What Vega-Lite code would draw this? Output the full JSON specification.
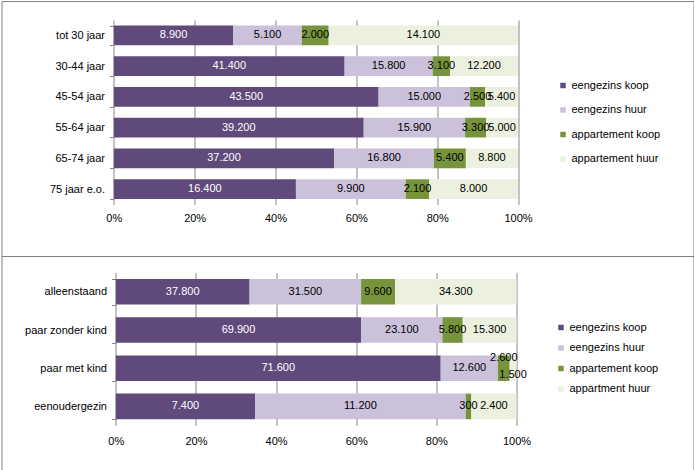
{
  "$schema": "https://vega.github.io/schema/vega-lite/v6.json",
  "padding": {"top": -6, "left": 0.5, "right": 0, "bottom": 0},
  "background": "white",
  "spacing": 0,
  "bounds": "flush",
  "datasets": {
    "top": [
      {"g": "tot 30 jaar", "s": "eengezins koop", "k": 1, "v": 8900},
      {"g": "tot 30 jaar", "s": "eengezins huur", "k": 2, "v": 5100},
      {"g": "tot 30 jaar", "s": "appartement koop", "k": 3, "v": 2000},
      {"g": "tot 30 jaar", "s": "appartement huur", "k": 4, "v": 14100},
      {"g": "30-44 jaar", "s": "eengezins koop", "k": 1, "v": 41400},
      {"g": "30-44 jaar", "s": "eengezins huur", "k": 2, "v": 15800},
      {"g": "30-44 jaar", "s": "appartement koop", "k": 3, "v": 3100},
      {"g": "30-44 jaar", "s": "appartement huur", "k": 4, "v": 12200},
      {"g": "45-54 jaar", "s": "eengezins koop", "k": 1, "v": 43500},
      {"g": "45-54 jaar", "s": "eengezins huur", "k": 2, "v": 15000},
      {"g": "45-54 jaar", "s": "appartement koop", "k": 3, "v": 2500},
      {"g": "45-54 jaar", "s": "appartement huur", "k": 4, "v": 5400},
      {"g": "55-64 jaar", "s": "eengezins koop", "k": 1, "v": 39200},
      {"g": "55-64 jaar", "s": "eengezins huur", "k": 2, "v": 15900},
      {"g": "55-64 jaar", "s": "appartement koop", "k": 3, "v": 3300},
      {"g": "55-64 jaar", "s": "appartement huur", "k": 4, "v": 5000},
      {"g": "65-74 jaar", "s": "eengezins koop", "k": 1, "v": 37200},
      {"g": "65-74 jaar", "s": "eengezins huur", "k": 2, "v": 16800},
      {"g": "65-74 jaar", "s": "appartement koop", "k": 3, "v": 5400},
      {"g": "65-74 jaar", "s": "appartement huur", "k": 4, "v": 8800},
      {"g": "75 jaar e.o.", "s": "eengezins koop", "k": 1, "v": 16400},
      {"g": "75 jaar e.o.", "s": "eengezins huur", "k": 2, "v": 9900},
      {"g": "75 jaar e.o.", "s": "appartement koop", "k": 3, "v": 2100},
      {"g": "75 jaar e.o.", "s": "appartement huur", "k": 4, "v": 8000}
    ],
    "bottom": [
      {"g": "alleenstaand", "s": "eengezins koop", "k": 1, "v": 37800},
      {"g": "alleenstaand", "s": "eengezins huur", "k": 2, "v": 31500},
      {"g": "alleenstaand", "s": "appartement koop", "k": 3, "v": 9600},
      {"g": "alleenstaand", "s": "appartment huur", "k": 4, "v": 34300},
      {"g": "paar zonder kind", "s": "eengezins koop", "k": 1, "v": 69900},
      {"g": "paar zonder kind", "s": "eengezins huur", "k": 2, "v": 23100},
      {"g": "paar zonder kind", "s": "appartement koop", "k": 3, "v": 5800},
      {"g": "paar zonder kind", "s": "appartment huur", "k": 4, "v": 15300},
      {"g": "paar met kind", "s": "eengezins koop", "k": 1, "v": 71600},
      {"g": "paar met kind", "s": "eengezins huur", "k": 2, "v": 12600},
      {"g": "paar met kind", "s": "appartement koop", "k": 3, "v": 2600},
      {"g": "paar met kind", "s": "appartment huur", "k": 4, "v": 1500},
      {"g": "eenoudergezin", "s": "eengezins koop", "k": 1, "v": 7400},
      {"g": "eenoudergezin", "s": "eengezins huur", "k": 2, "v": 11200},
      {"g": "eenoudergezin", "s": "appartement koop", "k": 3, "v": 300},
      {"g": "eenoudergezin", "s": "appartment huur", "k": 4, "v": 2400}
    ]
  },
  "vconcat": [
    {
      "width": 692,
      "height": 255,
      "data": {"name": "top"},
      "encoding": {
        "y": {
          "field": "g", "type": "nominal",
          "sort": ["tot 30 jaar", "30-44 jaar", "45-54 jaar", "55-64 jaar", "65-74 jaar", "75 jaar e.o."],
          "scale": {"range": [19, 203.5], "paddingInner": 0.36, "paddingOuter": 0.18, "round": false},
          "axis": {"title": null, "orient": "left", "offset": -112, "domain": false, "tickBand": "extent", "tickSize": 4, "tickColor": "#868686", "labelPadding": 5, "labelFontSize": 11, "labelColor": "#000000", "minExtent": 0}
        }
      },
      "layer": [
        {
          "mark": {"type": "bar", "strokeWidth": 0},
          "encoding": {
            "x": {
              "field": "v", "type": "quantitative", "stack": "normalize",
              "scale": {"domain": [-0.27783, 1.43414], "nice": false, "zero": false},
              "axis": {"title": null, "values": [0, 0.2, 0.4, 0.6, 0.8, 1], "format": ".0%", "grid": false, "domain": false, "offset": -51.5, "tickSize": -184.5, "tickColor": "#868686", "labelPadding": 192, "labelFontSize": 11, "labelColor": "#000000", "labelFlush": false, "labelOverlap": false, "zindex": 0, "minExtent": 0}
            },
            "order": {"field": "k", "type": "quantitative"},
            "color": {
              "field": "s", "type": "nominal",
              "sort": ["eengezins koop", "eengezins huur", "appartement koop", "appartement huur"],
              "scale": {"domain": ["eengezins koop", "eengezins huur", "appartement koop", "appartement huur"], "range": ["#604A7B", "#CCC1DA", "#77933C", "#EBF1DE"]},
              "legend": {"title": null, "orient": "none", "legendX": 556, "legendY": 79, "symbolType": "square", "symbolSize": 30, "symbolStrokeWidth": 0, "labelFontSize": 11, "labelColor": "#000000", "rowPadding": 12.5, "labelOffset": 3}
            }
          }
        },
        {
          "mark": {"type": "text", "baseline": "middle", "align": "center", "fontSize": 11},
          "encoding": {
            "x": {"field": "v", "type": "quantitative", "stack": "normalize", "bandPosition": 0.5},
            "order": {"field": "k", "type": "quantitative"},
            "detail": {"field": "s"},
            "text": {"field": "v", "type": "quantitative", "format": ",.0f"},
            "color": {"condition": {"test": "datum.k === 1", "value": "#ffffff"}, "value": "#000000"}
          }
        }
      ]
    },
    {
      "width": 692,
      "height": 214,
      "data": {"name": "bottom"},
      "encoding": {
        "y": {
          "field": "g", "type": "nominal",
          "sort": ["alleenstaand", "paar zonder kind", "paar met kind", "eenoudergezin"],
          "scale": {"range": [16.7, 169.5], "paddingInner": 0.33, "paddingOuter": 0.165, "round": false},
          "axis": {"title": null, "orient": "left", "offset": -114, "domain": false, "tickBand": "extent", "tickSize": 4, "tickColor": "#868686", "labelPadding": 5, "labelFontSize": 11, "labelColor": "#000000", "minExtent": 0}
        }
      },
      "layer": [
        {
          "mark": {"type": "bar", "strokeWidth": 0},
          "encoding": {
            "x": {
              "field": "v", "type": "quantitative", "stack": "normalize",
              "scale": {"domain": [-0.28526, 1.44174], "nice": false, "zero": false},
              "axis": {"title": null, "values": [0, 0.2, 0.4, 0.6, 0.8, 1], "format": ".0%", "grid": false, "domain": false, "offset": -44.5, "tickSize": -152.8, "tickColor": "#868686", "labelPadding": 162.5, "labelFontSize": 11, "labelColor": "#000000", "labelFlush": false, "labelOverlap": false, "zindex": 0, "minExtent": 0}
            },
            "order": {"field": "k", "type": "quantitative"},
            "color": {
              "field": "s", "type": "nominal",
              "sort": ["eengezins koop", "eengezins huur", "appartement koop", "appartment huur"],
              "scale": {"domain": ["eengezins koop", "eengezins huur", "appartement koop", "appartment huur"], "range": ["#604A7B", "#CCC1DA", "#77933C", "#EBF1DE"]},
              "legend": {"title": null, "orient": "none", "legendX": 554, "legendY": 66, "symbolType": "square", "symbolSize": 30, "symbolStrokeWidth": 0, "labelFontSize": 11, "labelColor": "#000000", "rowPadding": 8.5, "labelOffset": 3}
            }
          }
        },
        {
          "mark": {"type": "text", "baseline": "middle", "align": "center", "fontSize": 11},
          "encoding": {
            "x": {"field": "v", "type": "quantitative", "stack": "normalize", "bandPosition": 0.5},
            "order": {"field": "k", "type": "quantitative"},
            "detail": {"field": "s"},
            "text": {"condition": {"test": "datum.g === 'paar met kind' && datum.k >= 3", "value": ""}, "field": "v", "type": "quantitative", "format": ",.0f"},
            "color": {"condition": {"test": "datum.k === 1", "value": "#ffffff"}, "value": "#000000"}
          }
        },
        {
          "mark": {"type": "text", "baseline": "middle", "align": "center", "fontSize": 11, "dy": -10},
          "encoding": {
            "x": {"field": "v", "type": "quantitative", "stack": "normalize", "bandPosition": 0.5},
            "order": {"field": "k", "type": "quantitative"},
            "detail": {"field": "s"},
            "text": {"condition": {"test": "datum.g === 'paar met kind' && datum.k === 3", "field": "v", "type": "quantitative", "format": ",.0f"}, "value": ""},
            "color": {"value": "#000000"}
          }
        },
        {
          "mark": {"type": "text", "baseline": "middle", "align": "center", "fontSize": 11, "dy": 7},
          "encoding": {
            "x": {"field": "v", "type": "quantitative", "stack": "normalize", "bandPosition": 0.5},
            "order": {"field": "k", "type": "quantitative"},
            "detail": {"field": "s"},
            "text": {"condition": {"test": "datum.g === 'paar met kind' && datum.k === 4", "field": "v", "type": "quantitative", "format": ",.0f"}, "value": ""},
            "color": {"value": "#000000"}
          }
        }
      ]
    }
  ],
  "resolve": {"scale": {"color": "independent", "x": "independent", "y": "independent"}, "legend": {"color": "independent"}},
  "config": {
    "font": "Liberation Sans",
    "locale": {"number": {"decimal": ",", "thousands": ".", "grouping": [3], "currency": ["€", ""]}},
    "view": {"stroke": "#808080", "strokeWidth": 1}
  }
}
